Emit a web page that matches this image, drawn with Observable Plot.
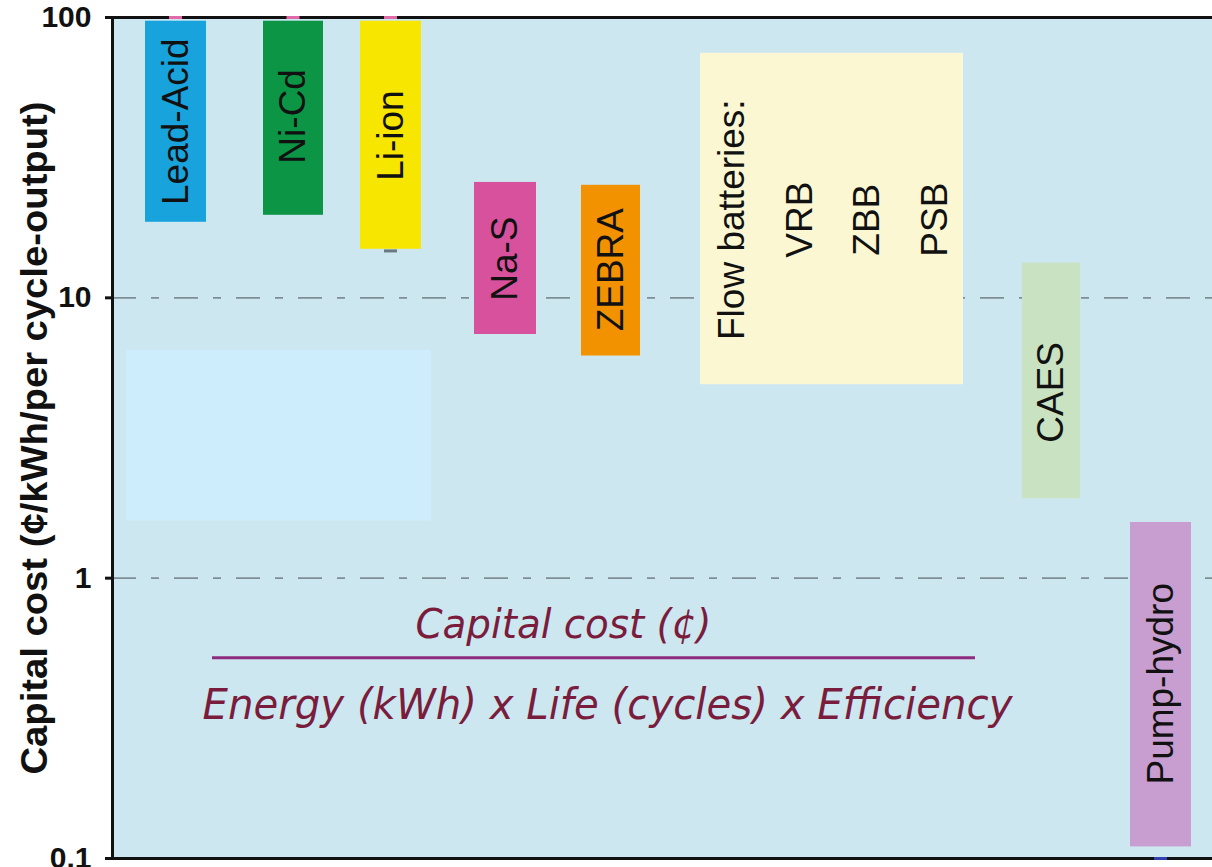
<!DOCTYPE html>
<html><head><meta charset="utf-8">
<script src="https://cdn.jsdelivr.net/npm/d3@7"></script>
<script src="https://cdn.jsdelivr.net/npm/@observablehq/plot@0.6"></script>
<style>
html,body{margin:0;padding:0;background:#fff;}
#chart svg{display:block;}
</style></head><body><div id="chart"></div>
<script>
// ---- data ----
const technologies = ["Lead-Acid","Ni-Cd","Li-ion","Na-S","ZEBRA","Flow batteries","CAES","Pump-hydro"];
const costLow  = [18.6, 19.7, 14.9, 7.4, 6.2, 4.9, 1.92, 0.11];
const costHigh = [97, 97, 97, 25.8, 25.2, 74.5, 13.3, 1.58];
// horizontal slot of each column (abstract column units, chart has no x axis)
const slotStart = [0.33, 1.51, 2.48, 3.62, 4.69, 5.88, 9.10, 10.18];
const slotEnd   = [0.94, 2.11, 3.09, 4.24, 5.28, 8.51, 9.68, 10.79];
const labelCost = [42.5, 44.4, 37.9, 13.8, 12.6, null, 4.6, 0.42];
const palette = ["#18a3dc","#0c9545","#f6e600","#d8519c","#f39200","#fbf7d3","#c9e2c2","#c89dd0"];
const flowLabels = ["Flow batteries:", "VRB", "ZBB", "PSB"];
const flowLabelSlot = [6.20, 6.88, 7.55, 8.23];
const flowLabelCost = [19.0, 19.0, 19.0, 19.0];
const yTicks = [0.1, 1, 10, 100];
const yTickLabels = ["0.1", "1", "10", "100"];
const gridCosts = [1, 10];
// blank highlighted region
const blankRegion = {x1: 0.14, x2: 3.19, y1: 1.6, y2: 6.5};
// small cap marks
const capSlot = [0.635, 1.81, 2.785, 2.785, 10.485];
const capCost = [100, 100, 100, 14.7, 0.1];
const capColor = ["#e36aa8","#e36aa8","#e36aa8","#6a7880","#3040b0"];
// formula annotation
const formulaTop = "Capital cost (¢)";
const formulaBottom = "Energy (kWh) x Life (cycles) x Efficiency";
const yLabel = "Capital cost (¢/kWh/per cycle-output)";

const bars = technologies.map((t, i) => ({t, lo: costLow[i], hi: costHigh[i], x1: slotStart[i], x2: slotEnd[i], lab: labelCost[i]}));
const caps = capSlot.map((s, i) => ({s, c: capCost[i], col: capColor[i]}));
const flows = flowLabels.map((l, i) => ({l, s: flowLabelSlot[i], c: flowLabelCost[i]}));

const font = "'Liberation Sans', Arial, Helvetica, sans-serif";
const formulaFont = "'DejaVu Sans', sans-serif";

const chart = Plot.plot({
  width: 1212,
  height: 867,
  marginLeft: 112,
  marginRight: 0,
  marginTop: 17,
  marginBottom: 9,
  style: {fontFamily: font, background: "#ffffff"},
  x: {domain: [0, 11], axis: null},
  y: {type: "log", domain: [0.1, 100], axis: null},
  color: {domain: technologies, range: palette},
  marks: [
    Plot.frame({fill: "#cde7f1", stroke: "none"}),
    Plot.rect([blankRegion], {x1: "x1", x2: "x2", y1: "y1", y2: "y2", fill: "#ceedfc"}),
    Plot.ruleY(gridCosts, {stroke: "#7f8e95", strokeWidth: 1.6, strokeDasharray: "24,15,8,15"}),
    Plot.rect(bars, {x1: "x1", x2: "x2", y1: "lo", y2: "hi", fill: "t"}),
    Plot.text(bars.filter(d => d.lab != null), {x: d => (d.x1 + d.x2) / 2, y: "lab", text: "t", rotate: -90, fontSize: 37, fill: "#111"}),
    Plot.text(flows, {x: "s", y: "c", text: "l", rotate: -90, fontSize: 37, fill: "#111"}),
    // formula
    Plot.text([formulaTop], {x: 4.51, y: 0.677, text: d => d, fontSize: 40, fontStyle: "italic", fill: "#7a1d3c", fontFamily: formulaFont, className: "ftop"}),
    Plot.ruleY([0.52], {x1: 1.0, x2: 8.63, stroke: "#8e2b7e", strokeWidth: 3}),
    Plot.text([formulaBottom], {x: 4.95, y: 0.35, text: d => d, fontSize: 42, fontStyle: "italic", fill: "#7a1d3c", fontFamily: formulaFont, className: "fbot"}),
    // frame lines
    Plot.ruleY([100, 0.1], {stroke: "#111", strokeWidth: 3}),
    Plot.ruleX([0], {stroke: "#111", strokeWidth: 3}),
    Plot.ruleY(caps, {y: "c", x1: d => d.s - 0.065, x2: d => d.s + 0.065, stroke: "col", strokeWidth: 3}),
    Plot.axisY(yTicks, {tickFormat: (d) => yTickLabels[yTicks.indexOf(d)], tickSize: 7, tickPadding: 14, strokeWidth: 3, stroke: "#111", fill: "#111", label: null, className: "yax"}),
    Plot.text([yLabel], {frameAnchor: "left", dx: -77, rotate: -90, textAnchor: "middle", text: d => d, fontSize: 37, fontWeight: "bold", fill: "#111", className: "ylab"})
  ]
});
document.getElementById("chart").appendChild(chart);
const svg = d3.select(chart);
svg.selectAll(".fbot text").attr("textLength", 810).attr("lengthAdjust", "spacingAndGlyphs");
svg.selectAll(".ftop text").attr("textLength", 296).attr("lengthAdjust", "spacingAndGlyphs");
svg.selectAll(".ylab text").attr("textLength", 673).attr("lengthAdjust", "spacingAndGlyphs");
svg.selectAll("g[aria-label='y-axis tick label']").attr("font-size", 30).attr("font-weight", "bold");
svg.selectAll("g[aria-label='y-axis tick label'] text").style("font-size", "30px").style("font-weight", "bold");
</script>
</body></html>
